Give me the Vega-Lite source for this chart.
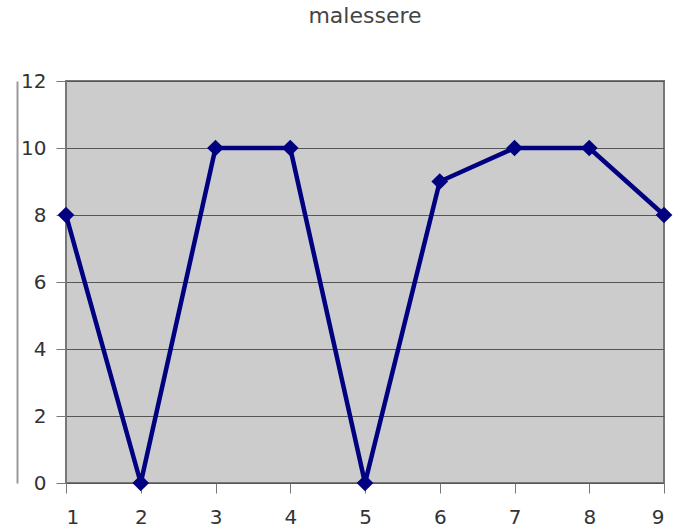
{
  "$schema": "https://vega.github.io/schema/vega-lite/v6.json",
  "width": 598,
  "height": 402,
  "autosize": "none",
  "padding": {"left": 66, "top": 81, "right": 36, "bottom": 45},
  "background": "white",
  "title": {"text": "malessere", "fontSize": 22, "font": "DejaVu Sans", "fontWeight": "normal", "color": "#444444", "offset": 43, "anchor": "middle"},
  "config": {"view": {"fill": "#cccccc", "stroke": "#777777", "strokeWidth": 2}},
  "data": {"values": [
    {"x": 1, "y": 8}, {"x": 2, "y": 0}, {"x": 3, "y": 10}, {"x": 4, "y": 10}, {"x": 5, "y": 0},
    {"x": 6, "y": 9}, {"x": 7, "y": 10}, {"x": 8, "y": 10}, {"x": 9, "y": 8}
  ]},
  "resolve": {"axis": {"y": "independent"}},
  "layer": [
    {
      "mark": {"type": "point", "opacity": 0},
      "encoding": {
        "x": {"field": "x", "type": "quantitative", "scale": {"domain": [1, 9], "nice": false, "zero": false},
              "axis": {"values": [1,2,3,4,5,6,7,8,9], "format": "d", "grid": false, "domain": false, "tickColor": "#777777", "tickSize": 10, "labelFontSize": 20, "labelFont": "DejaVu Sans", "labelColor": "#333333", "labelPadding": 14, "title": null}},
        "y": {"field": "y", "type": "quantitative", "scale": {"domain": [0, 12], "nice": false},
              "axis": {"orient": "left", "offset": 49, "domain": true, "domainColor": "#999999", "domainWidth": 2, "ticks": false, "labels": false, "grid": false, "title": null}}
      }
    },
    {
      "mark": {"type": "line", "color": "#000080", "strokeWidth": 4.5},
      "encoding": {
        "x": {"field": "x", "type": "quantitative"},
        "y": {"field": "y", "type": "quantitative",
              "axis": {"orient": "left", "values": [0,2,4,6,8,10,12], "grid": true, "gridColor": "#555555", "gridOpacity": 1, "domain": false, "tickColor": "#777777", "tickSize": 10, "labelFontSize": 20, "labelFont": "DejaVu Sans", "labelColor": "#333333", "labelPadding": 10, "title": null}}
      }
    },
    {
      "mark": {"type": "point", "shape": "diamond", "filled": true, "size": 280, "color": "#000080", "opacity": 1},
      "encoding": {
        "x": {"field": "x", "type": "quantitative"},
        "y": {"field": "y", "type": "quantitative", "axis": null}
      }
    }
  ]
}
